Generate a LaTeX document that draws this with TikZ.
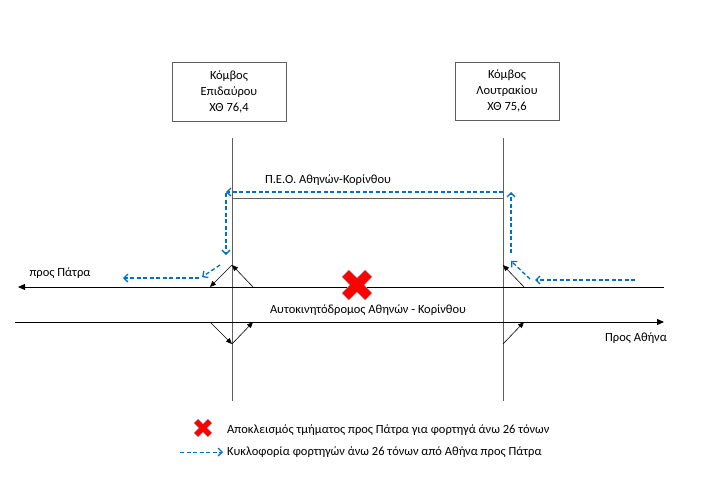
\documentclass[tikz,border=0pt]{standalone}
\usepackage{fontspec}
\setmainfont{Carlito}
\usetikzlibrary{arrows.meta}
\definecolor{road}{RGB}{95,95,95}
\definecolor{flow}{RGB}{0,112,192}
\definecolor{xred}{RGB}{255,0,0}
\tikzset{
  junction/.style={draw=road,line width=0.9pt,align=center,inner sep=0pt,font=\fontsize{12.5}{16}\selectfont},
  roadline/.style={draw=road,line width=1pt},
  roadarrow/.style={roadline,-{Triangle[length=7pt,width=6pt]},black},
  ramp/.style={draw=black,line width=0.6pt,-{Triangle[length=6pt,width=5pt]}},
  flowline/.style={draw=flow,line width=1.3pt,dash pattern=on 4pt off 2.5pt,-{Straight Barb[length=4pt,width=8pt,line width=1.3pt]}},
  lbl/.style={inner sep=0pt,font=\fontsize{12.5}{14}\selectfont},
}
\newcommand{\blockx}[3]{%
  \fill[xred,draw=gray!70,line width=0.4pt] (#1,#2) ++(-#3,-#3+0.45*#3) -- ++(0.45*#3,-0.45*#3) -- (#1,#2-0.45*#3*1.05)
  -- (#1+#3-0.45*#3,#2-#3) -- ++(0.45*#3,0.45*#3) -- (#1+0.45*#3*1.05,#2)
  -- (#1+#3,#2+#3-0.45*#3) -- ++(-0.45*#3,0.45*#3) -- (#1,#2+0.45*#3*1.05)
  -- (#1-#3+0.45*#3,#2+#3) -- ++(-0.45*#3,-0.45*#3) -- (#1-0.45*#3*1.05,#2) -- cycle;}
\begin{document}
\begin{tikzpicture}[x=1pt,y=-1pt]
\useasboundingbox (0,0) rectangle (720,480);
% junction boxes
\node[junction,minimum width=114pt,minimum height=59pt] (epid) at (229,92) {Κόμβος\\Επιδαύρου\\ΧΘ 76,4};
\node[junction,minimum width=104pt,minimum height=58pt] (lout) at (507,91) {Κόμβος\\Λουτρακίου\\ΧΘ 75,6};
% vertical roads
\coordinate (vlt) at (232,138); \coordinate (vlb) at (232,401);
\coordinate (vrt) at (503,138); \coordinate (vrb) at (503,401);
\draw[roadline] (vlt) -- (vlb);
\draw[roadline] (vrt) -- (vrb);
% old road
\coordinate (peol) at (232,198); \coordinate (peor) at (503,198);
\draw[roadline] (peol) -- (peor);
\node[lbl] (peo) at (328,180) {Π.Ε.Ο. Αθηνών-Κορίνθου};
% motorway
\coordinate (upR) at (664,287); \coordinate (upL) at (18,287);
\coordinate (loL) at (15,322); \coordinate (loR) at (664,322);
\draw[roadarrow] (upR) -- (upL);
\draw[roadarrow] (loL) -- (loR);
\node[lbl] (patra) at (60,273) {προς Πάτρα};
\node[lbl] (athina) at (636,338) {Προς Αθήνα};
\node[lbl] (motor) at (368,310) {Αυτοκινητόδρομος Αθηνών - Κορίνθου};
% ramps left
\coordinate (l1) at (253,287); \coordinate (l2) at (232,265); \coordinate (l3) at (210,287);
\coordinate (l4) at (210,322); \coordinate (l5) at (232,344); \coordinate (l6) at (253,322);
\draw[ramp] (l1) -- (l2);
\draw[ramp] (l2) -- (l3);
\draw[ramp] (l4) -- (l5);
\draw[ramp] (l5) -- (l6);
% ramps right
\coordinate (r1) at (524,287); \coordinate (r2) at (503,265);
\coordinate (r3) at (503,344); \coordinate (r4) at (524,322);
\draw[ramp] (r1) -- (r2);
\draw[ramp] (r3) -- (r4);
% truck detour
\coordinate (f1) at (635,280); \coordinate (f2) at (535,280);
\coordinate (f3) at (530,279); \coordinate (f4) at (511,261);
\coordinate (f5) at (511,253); \coordinate (f6) at (511,192);
\coordinate (f7) at (503,192); \coordinate (f8) at (226,192);
\coordinate (f9) at (226,193); \coordinate (f10) at (226,255);
\coordinate (f11) at (220,265); \coordinate (f12) at (202,277);
\coordinate (f13) at (199,278); \coordinate (f14) at (123,278);
\draw[flowline] (f1) -- (f2);
\draw[flowline] (f3) -- (f4);
\draw[flowline] (f5) -- (f6);
\draw[flowline] (f7) -- (f8);
\draw[flowline] (f9) -- (f10);
\draw[flowline] (f11) -- (f12);
\draw[flowline] (f13) -- (f14);
% closure
\blockx{357}{285}{15}
% legend
\blockx{203}{428}{9}
\node[lbl,anchor=west] (leg1) at (227,430) {Αποκλεισμός τμήματος προς Πάτρα για φορτηγά άνω 26 τόνων};
\coordinate (la) at (180,452); \coordinate (lb) at (223,452);
\draw[flowline,line width=1pt] (la) -- (lb);
\node[lbl,anchor=west] (leg2) at (227,452) {Κυκλοφορία φορτηγών άνω 26 τόνων από Αθήνα προς Πάτρα};
\end{tikzpicture}
\end{document}
